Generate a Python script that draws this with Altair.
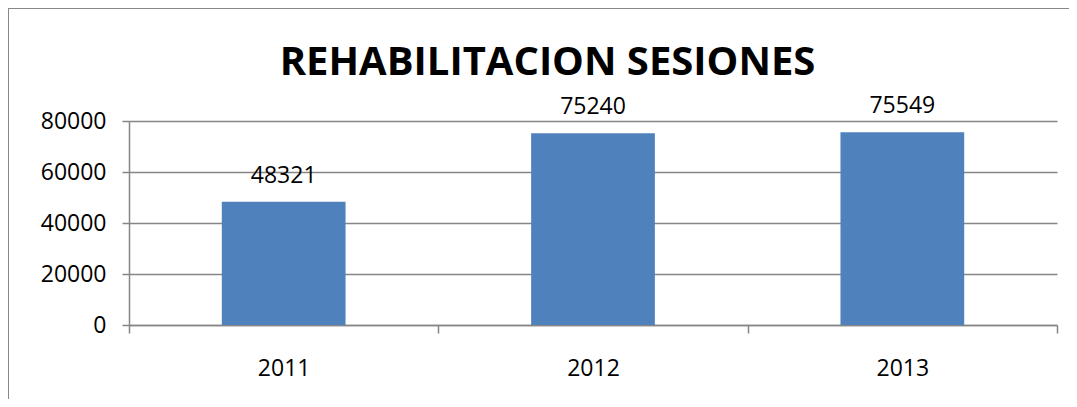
import altair as alt
import pandas as pd

years = ["2011", "2012", "2013"]
sessions = [48321, 75240, 75549]
y_ticks = [0, 20000, 40000, 60000, 80000]
title_text = "REHABILITACION SESIONES"

df = pd.DataFrame({"year": years, "sessions": sessions})

FONT = "Open Sans"
GRID = "#868686"

x = alt.X("year:N", sort=years, title=None,
          scale=alt.Scale(paddingInner=0, paddingOuter=0),
          axis=alt.Axis(labelAngle=0, tickBand="extent", domainColor=GRID, domainWidth=1.5,
                        tickColor=GRID, tickWidth=1.5, tickSize=8, labelPadding=24,
                        labelFont=FONT, labelFontSize=23, labelColor="#000000", grid=False))
y = alt.Y("sessions:Q", title=None,
          scale=alt.Scale(domain=[0, 80000], nice=False),
          axis=alt.Axis(values=y_ticks, format="d", domainColor=GRID, domainWidth=1.5, tickColor=GRID,
                        tickWidth=1.5, tickSize=7, labelPadding=16, gridColor=GRID, gridWidth=1.5,
                        labelFont=FONT, labelFontSize=23, labelColor="#000000", grid=True))

base = alt.Chart(df)

bars = base.mark_bar(color="#4F81BD", width=alt.RelativeBandSize(0.4)).encode(x=x, y=y)
labels = base.mark_text(font=FONT, fontSize=23, color="#000000", baseline="alphabetic", dy=-19).encode(
    x=alt.X("year:N", sort=years), y="sessions:Q", text="sessions:Q")

frame = alt.Chart(pd.DataFrame({"a": [0]})).mark_rect(
    fill=None, stroke="#888888", strokeWidth=2).encode(
    x=alt.value(-121), x2=alt.value(1100), y=alt.value(-113), y2=alt.value(400))

title = alt.Chart(pd.DataFrame({"t": [title_text]})).mark_text(
    font=FONT, fontSize=40, fontWeight="bold", color="#000000", align="center", baseline="alphabetic").encode(
    x=alt.value(418.5), y=alt.value(-46), text="t:N")

chart = alt.layer(frame, title, bars, labels).properties(
    width=928, height=204,
    autosize=alt.AutoSizeParams(type="none"),
    padding={"left": 121, "top": 113, "right": 12, "bottom": 74},
).configure_view(stroke=None)

chart.save("out.html", embed_options={"renderer": "svg", "actions": False})
